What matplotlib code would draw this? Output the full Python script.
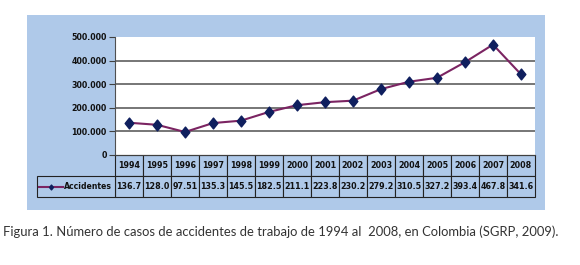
import matplotlib
matplotlib.use("Agg")
import matplotlib.pyplot as plt
from matplotlib.patches import Rectangle
from matplotlib.lines import Line2D
from matplotlib.path import Path
import matplotlib.transforms as mtransforms

years = ["1994", "1995", "1996", "1997", "1998", "1999", "2000", "2001",
         "2002", "2003", "2004", "2005", "2006", "2007", "2008"]
values = [136.7, 128.0, 97.51, 135.3, 145.5, 182.5, 211.1, 223.8,
          230.2, 279.2, 310.5, 327.2, 393.4, 467.8, 341.6]
value_labels = ["136.7", "128.0", "97.51", "135.3", "145.5", "182.5", "211.1", "223.8",
                "230.2", "279.2", "310.5", "327.2", "393.4", "467.8", "341.6"]
series_name = "Accidentes"
yticks = [0, 100000, 200000, 300000, 400000, 500000]
ytick_labels = ["0", "100.000", "200.000", "300.000", "400.000", "500.000"]
caption = "Figura 1. Número de casos de accidentes de trabajo de 1994 al  2008, en Colombia (SGRP, 2009)."

W, H = 580, 265
fig = plt.figure(figsize=(W / 100, H / 100), dpi=100)
fig.patch.set_facecolor("white")

BG = "#afc9e9"
LINE = "#7b2462"
MARK = "#0f1f5e"

def fx(px):
    return px / W

def fy(py):
    return 1 - py / H

# blue background
bgax = fig.add_axes([fx(27), fy(210), fx(545) - fx(27), fy(15) - fy(210)], zorder=-5)
bgax.set_facecolor(BG)
bgax.set_xticks([])
bgax.set_yticks([])
for s in bgax.spines.values():
    s.set_visible(False)

left, right, top, bottom = 115, 535, 37, 155
ax = fig.add_axes([fx(left), fy(bottom), fx(right) - fx(left), fy(top) - fy(bottom)], zorder=1)
ax.set_facecolor("white")
n = len(years)
x = list(range(n))
yvals = [v * 1000 for v in values]

diamond = Path([(0, 1), (0.8, 0), (0, -1), (-0.8, 0), (0, 1)],
               [Path.MOVETO, Path.LINETO, Path.LINETO, Path.LINETO, Path.CLOSEPOLY])
ax.plot(x, yvals, color=LINE, lw=1.5, zorder=3)
ax.plot(x, yvals, ls="none", marker=diamond, ms=7.8, color=MARK, zorder=4)

ax.set_xlim(-0.5, n - 0.5)
ax.set_ylim(0, 500000)
ax.set_yticks(yticks)
ax.set_yticklabels(ytick_labels, fontsize=5.7, fontweight="bold", family="DejaVu Sans",
                   color="#111111")
ax.set_xticks([])
for yv in yticks[1:-1]:
    ax.axhline(yv, color="#5f5f5f", lw=1.2, zorder=1)
for s in ["top", "right"]:
    ax.spines[s].set_visible(False)
ax.spines["left"].set_color("#505050")
ax.spines["left"].set_linewidth(0.8)
ax.spines["bottom"].set_color("#404040")
ax.spines["bottom"].set_linewidth(0.8)
ax.tick_params(axis="y", length=4.5, width=0.8, color="#404040", pad=1.5)

# data table
rowh = 21 / (bottom - top)
trans = mtransforms.blended_transform_factory(ax.transData, ax.transAxes)
edge = "#222222"
for i in x:
    ax.add_patch(Rectangle((i - 0.5, -rowh), 1, rowh, transform=trans, facecolor=BG,
                           edgecolor=edge, lw=0.8, clip_on=False, zorder=2))
    ax.add_patch(Rectangle((i - 0.5, -2 * rowh), 1, rowh, transform=trans, facecolor=BG,
                           edgecolor=edge, lw=0.8, clip_on=False, zorder=2))
    ax.text(i, -rowh / 2, years[i], transform=trans, ha="center", va="center",
            fontsize=5.8, fontweight="bold", family="DejaVu Sans", color="#111111")
    ax.text(i, -1.5 * rowh, value_labels[i], transform=trans, ha="center", va="center",
            fontsize=5.8, fontweight="bold", family="DejaVu Sans", color="#111111")

lab_left = (37 - left) / (right - left)
ax.add_patch(Rectangle((lab_left, -2 * rowh), -lab_left, rowh, transform=ax.transAxes,
                       facecolor=BG, edgecolor=edge, lw=0.8, clip_on=False, zorder=2))
lx0 = (39 - left) / (right - left)
lx1 = (63 - left) / (right - left)
ax.add_line(Line2D([lx0, lx1], [-1.5 * rowh, -1.5 * rowh], transform=ax.transAxes,
                   color=LINE, lw=1.5, clip_on=False, zorder=3))
ax.add_line(Line2D([(lx0 + lx1) / 2], [-1.5 * rowh], transform=ax.transAxes, marker=diamond,
                   ms=3.5, color=MARK, ls="none", clip_on=False, zorder=4))
ax.text((112 - left) / (right - left), -1.5 * rowh, series_name, transform=ax.transAxes,
        ha="right", va="center", fontsize=5.6, fontweight="bold", family="DejaVu Sans",
        color="#111111")

fig.text(fx(3), fy(232), caption, ha="left", va="center", fontsize=9.4,
         family="Lato", color="#333333")

fig.savefig("out.png", dpi=100)
